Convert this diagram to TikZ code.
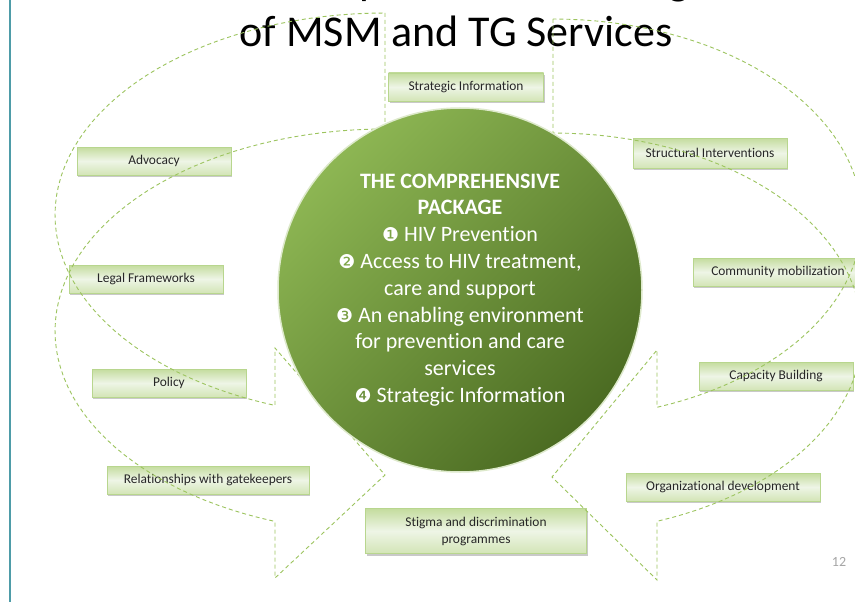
\documentclass[tikz,border=0pt]{standalone}
\usepackage{fontspec}
\setmainfont{Carlito}[Ligatures=NoCommon]
\newfontfamily\dingfont{DejaVu Sans}
\usetikzlibrary{shadows}
\definecolor{Band}{HTML}{9CC45E}
\definecolor{BoxDark}{HTML}{C4DC9E}
\definecolor{BoxLight}{HTML}{EEF5E6}
\definecolor{BoxLine}{HTML}{B8D68E}
\definecolor{CircLight}{HTML}{8DB653}
\definecolor{CircDark}{HTML}{4B6B22}
\definecolor{Teal}{HTML}{4E9CA8}
\definecolor{PageNum}{HTML}{A6A6A6}
\newcommand{\pkgnum}[1]{{\dingfont\fontsize{19}{26.8}\selectfont#1}}

\begin{document}
\begin{tikzpicture}[x=1pt,y=-1pt]
  \tikzstyle{lbl}=[draw=BoxLine,line width=0.8pt,top color=BoxDark,bottom color=BoxDark!75!white,middle color=BoxLight,minimum width=154pt,minimum height=28pt,inner sep=2pt,align=center,font=\fontsize{13.4}{17}\selectfont,text=black!85,drop shadow={shadow xshift=1.2pt,shadow yshift=-2pt,fill=black!35,opacity=.6}]
  \tikzstyle{band}=[draw=Band,line width=0.9pt,dash pattern=on 4pt off 3pt]
  \tikzstyle{ttl}=[anchor=base,inner sep=0pt,font=\fontsize{44}{50}\selectfont]
  \useasboundingbox (0,0) rectangle (855,602);
  \clip (0,0) rectangle (855,602);
  \fill[white] (0,0) rectangle (855,602);
  % title, first line runs off the top
  \node[ttl] (ttlA) at (456,-5) {The Comprehensive Package};
  \node[ttl] (ttlB) at (456,47) {of MSM and TG Services};
  % the ten elements
  \node[lbl,minimum width=155pt] (strat) at (466,87) {Strategic Information};
  \node[lbl] (advo) at (154,161) {Advocacy};
  \node[lbl] (legal) at (146,279) {Legal Frameworks};
  \node[lbl] (policy) at (169,383) {Policy};
  \node[lbl,minimum width=202pt] (gate) at (208,480) {Relationships with gatekeepers};
  \node[lbl,minimum width=221pt,minimum height=45pt] (stigma) at (476,531) {Stigma and discrimination\\programmes};
  \node[lbl,minimum height=30pt] (struct) at (710,153) {Structural Interventions};
  \node[lbl,minimum width=170pt] (commu) at (778,272) {Community mobilization};
  \node[lbl] (capac) at (776,376) {Capacity Building};
  \node[lbl,minimum width=194pt] (orgdev) at (723,487) {Organizational development};
  % curved arrows, left and right
  \draw[band] (385,13) -- (385,129)
    -- plot[domain=270:109.47,samples=60,variable=\t] ({385+330*cos(\t)},{331+202*sin(\t)})
    -- (275,578) -- (385,475) -- (275,348)
    -- plot[domain=109.47:270,samples=60,variable=\t] ({385+330*cos(\t)},{215+202*sin(\t)}) -- cycle;
  \draw[band] (553,19) -- (553,133)
    -- plot[domain=-90:70.33,samples=60,variable=\t] ({553+309*cos(\t)},{333+200*sin(\t)})
    -- (657,580) -- (552,477) -- (657,350)
    -- plot[domain=70.33:-90,samples=60,variable=\t] ({553+309*cos(\t)},{219+200*sin(\t)}) -- cycle;
  % the package
  \node[circle,minimum size=364pt,inner sep=0pt,top color=CircLight,bottom color=CircDark,shading angle=45,draw=white!70!CircLight,line width=1.5pt,text=white,align=center,font=\fontsize{22}{26.8}\selectfont] (pkg) at (460,290)
    {\textbf{THE COMPREHENSIVE}\\\textbf{PACKAGE}\\\pkgnum{❶} HIV Prevention\\\pkgnum{❷} Access to HIV treatment,\\care and support\\\pkgnum{❸} An enabling environment\\for prevention and care\\services\\\pkgnum{❹} Strategic Information};
  \node[font=\fontsize{14}{16}\selectfont,text=PageNum] (pgno) at (839,562) {12};
  \draw[Teal,line width=2pt] (10,0) -- (10,602);
\end{tikzpicture}
\end{document}
